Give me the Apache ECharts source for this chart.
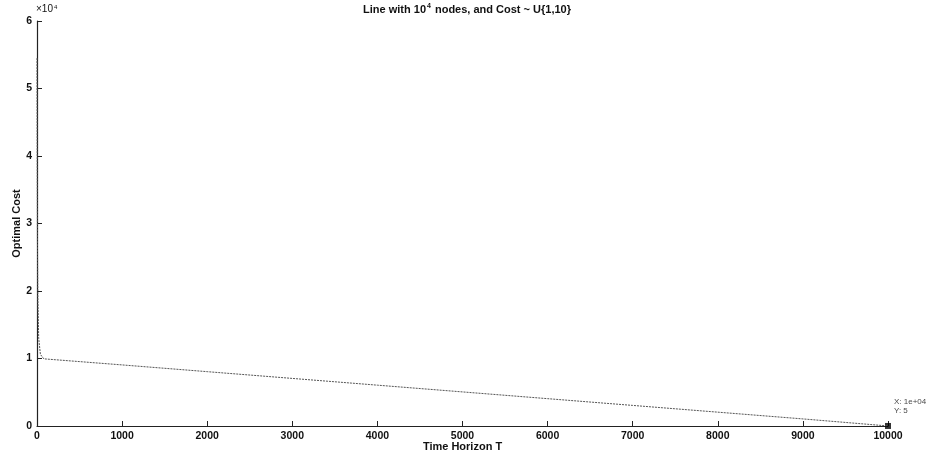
<!DOCTYPE html>
<html>
<head>
<meta charset="utf-8">
<script src="https://cdn.jsdelivr.net/npm/echarts@6/dist/echarts.min.js"></script>
<style>
  html, body { margin: 0; padding: 0; background: #fff; }
  #chart { width: 930px; height: 457px; }
</style>
</head>
<body>
<div id="chart"></div>
<script>
// values (cost in units of 1e4 shown on axis, stored raw)
var horizonT = [0, 2, 5, 10, 20, 40, 80, 1000, 2000, 3000, 4000, 5000, 6000, 7000, 8000, 9000, 10000];
var optimalCost = [54500, 42000, 28000, 19000, 13000, 10600, 9950, 9050, 8050, 7050, 6050, 5050, 4050, 3050, 2050, 1050, 5];
var xTicks = [0, 1000, 2000, 3000, 4000, 5000, 6000, 7000, 8000, 9000, 10000];
var yTicks = [0, 1, 2, 3, 4, 5, 6];
var tipPoint = [10000, 5];

var lineData = horizonT.map(function (t, i) { return [t, optimalCost[i]]; });

var chart = echarts.init(document.getElementById("chart"));
var font = "Liberation Sans";
var option = {
  animation: false,
  title: {
    text: "Line with 10{s|4} nodes, and Cost ~ U{1,10}",
    left: 462,
    textAlign: "center",
    top: -2,
    textStyle: {
      fontFamily: font, fontWeight: "bold", fontSize: 11, color: "#111",
      rich: {
        s: { fontFamily: font, fontWeight: "bold", fontSize: 7, color: "#111", verticalAlign: "top", padding: [0, 1, 6, 1] }
      }
    }
  },
  grid: { left: 37, right: 42, top: 21, bottom: 31, outerBoundsMode: "none" },
  xAxis: {
    type: "value",
    min: 0,
    max: 10000,
    interval: 1000,
    name: "Time Horizon T",
    nameLocation: "middle",
    nameGap: 15,
    nameMoveOverlap: false,
    nameTextStyle: { fontFamily: font, fontWeight: "bold", fontSize: 11, color: "#111" },
    splitLine: { show: false },
    axisLine: { onZero: false, lineStyle: { color: "#222", width: 1.2 } },
    axisTick: { inside: true, length: 5, lineStyle: { color: "#222" } },
    axisLabel: {
      fontFamily: font, fontWeight: "bold", fontSize: 10.5, color: "#111", margin: 5,
      formatter: function (v) { return xTicks.indexOf(v) >= 0 ? String(v) : ""; }
    }
  },
  yAxis: {
    type: "value",
    min: 0,
    max: 60000,
    interval: 10000,
    name: "Optimal Cost",
    nameLocation: "middle",
    nameGap: 15,
    nameMoveOverlap: false,
    nameTextStyle: { fontFamily: font, fontWeight: "bold", fontSize: 11, color: "#111" },
    splitLine: { show: false },
    axisLine: { onZero: false, lineStyle: { color: "#222", width: 1.2 } },
    axisTick: { inside: true, length: 5, lineStyle: { color: "#222" } },
    axisLabel: {
      fontFamily: font, fontWeight: "bold", fontSize: 10.5, color: "#111", margin: 5,
      formatter: function (v) { var k = v / 10000; return yTicks.indexOf(k) >= 0 ? String(k) : ""; }
    }
  },
  graphic: [
    {
      type: "text",
      left: 36,
      top: 4,
      style: {
        text: "{a|×10}{s|4}",
        rich: {
          a: { fontFamily: font, fontSize: 10, fill: "#111" },
          s: { fontFamily: font, fontSize: 6, fill: "#111", verticalAlign: "top", padding: [0, 0, 5, 1] }
        }
      }
    }
  ],
  series: [
    {
      type: "line",
      data: lineData,
      showSymbol: false,
      lineStyle: { color: "#555", width: 1, type: [2, 1] }
    },
    {
      type: "scatter",
      data: [tipPoint],
      symbol: "rect",
      symbolSize: 6,
      itemStyle: { color: "#000" },
      label: {
        show: true,
        position: "right",
        offset: [-2, -20],
        formatter: "X: 1e+04\nY: 5",
        fontFamily: font,
        fontSize: 8,
        lineHeight: 9,
        color: "#111"
      }
    }
  ]
};
chart.setOption(option);
</script>
</body>
</html>
